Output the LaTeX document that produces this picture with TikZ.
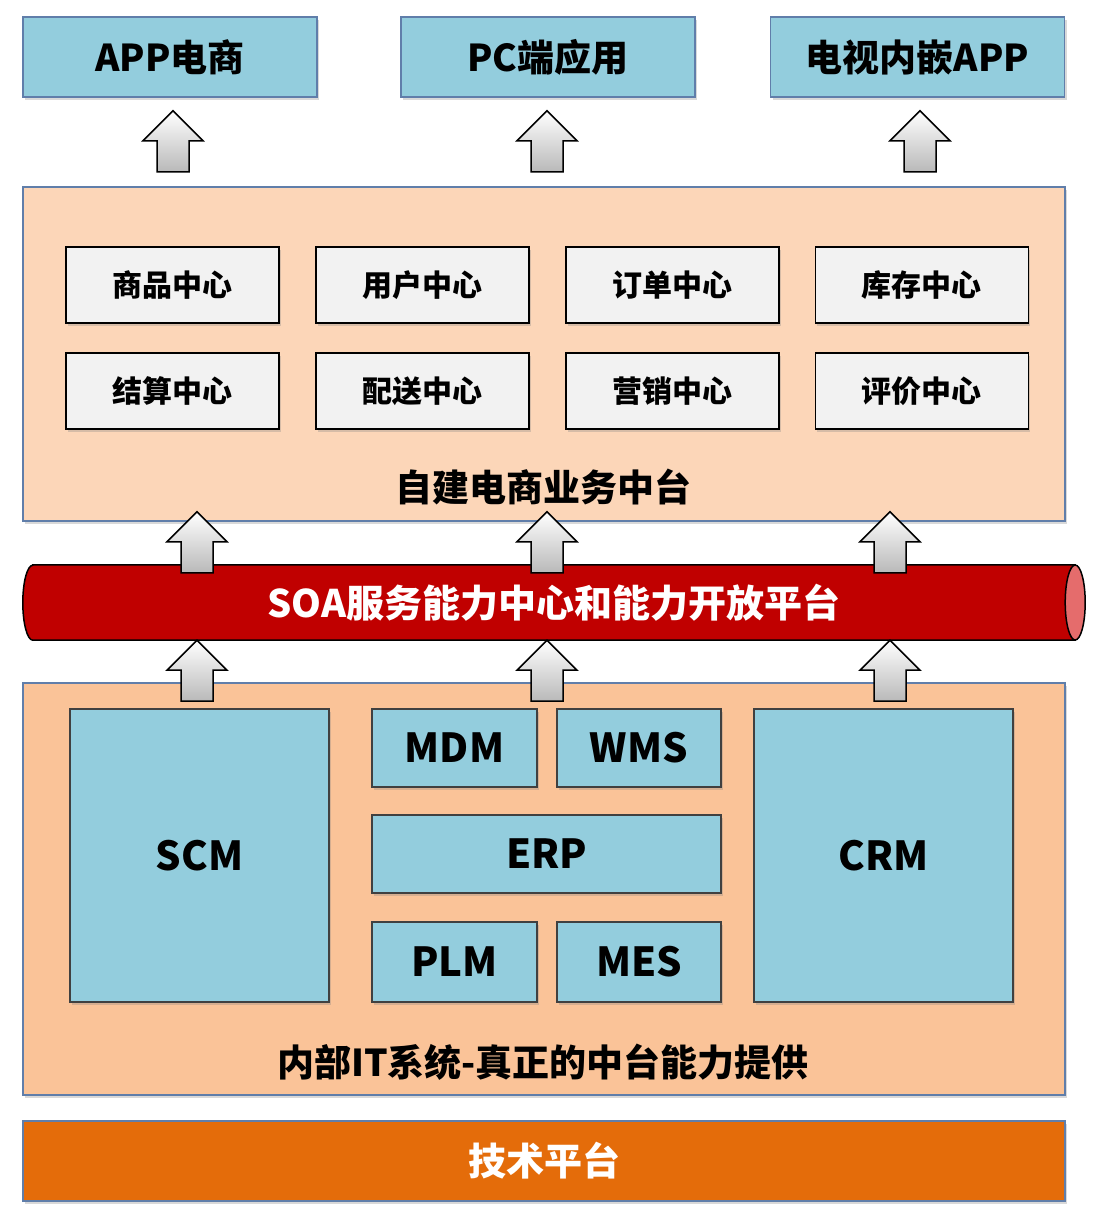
\documentclass[tikz,border=0pt]{standalone}
\usepackage{fontspec}
\setmainfont{Noto Sans CJK SC}
\usetikzlibrary{positioning,calc,shadows,backgrounds}

\definecolor{appblue}{RGB}{147,205,221}
\definecolor{boxline}{RGB}{96,126,170}
\definecolor{hubpeach}{RGB}{252,214,184}
\definecolor{itpeach}{RGB}{250,195,152}
\definecolor{centergray}{RGB}{242,242,242}
\definecolor{soared}{RGB}{192,0,0}
\definecolor{soaend}{RGB}{229,108,108}
\definecolor{techorange}{RGB}{228,108,10}

\begin{document}
\begin{tikzpicture}[x=1pt, y=-1pt,
    shade/.style={drop shadow={opacity=0.3, shadow xshift=2pt, shadow yshift=-3pt}},
    appbox/.style={rectangle, draw=boxline, line width=1.5pt, fill=appblue, minimum width=294pt, minimum height=80pt, font=\fontsize{37}{40}\selectfont\bfseries, shade},
    layer/.style={rectangle, draw=boxline, line width=1.5pt, minimum width=1042pt, shade},
    centerbox/.style={rectangle, draw=black, line width=1.8pt, fill=centergray, minimum width=213pt, minimum height=76pt, font=\fontsize{30}{34}\selectfont\bfseries, shade},
    sysbox/.style={rectangle, draw=black!75, line width=1.5pt, fill=appblue, font=\fontsize{40}{44}\selectfont\bfseries, shade},
    title/.style={font=\fontsize{37}{40}\selectfont\bfseries},
    uparr/.pic={\draw[line width=1.5pt, top color=white, bottom color=gray!55] (0,0) -- (30,30) -- (16,30) -- (16,61) -- (-16,61) -- (-16,30) -- (-30,30) -- cycle;}]

    \useasboundingbox (0,0) rectangle (1100,1224);

    % front ends
    \node [appbox] (app) at (170,57) {APP电商};
    \node [appbox] (pc) at (548,57) {PC端应用};
    \node [appbox] (tv) at (917.5,57) {电视内嵌APP};

    % business hub
    \node [layer, fill=hubpeach, minimum height=334pt] (hub) at (544,354) {};
    \node [title] (hubtitle) at (543,487) {自建电商业务中台};
    \node [centerbox] (goods) at (172.5,285) {商品中心};
    \node [centerbox, right=35pt of goods] (user) {用户中心};
    \node [centerbox, right=35pt of user] (order) {订单中心};
    \node [centerbox, right=35pt of order] (stock) {库存中心};
    \node [centerbox, below=28pt of goods] (settle) {结算中心};
    \node [centerbox, below=28pt of user] (deliver) {配送中心};
    \node [centerbox, below=28pt of order] (market) {营销中心};
    \node [centerbox, below=28pt of stock] (review) {评价中心};

    % SOA bus
    \node [font=\fontsize{38}{42}\selectfont\bfseries, text=white, minimum width=1062pt, minimum height=75pt, inner sep=0pt] (soa) at (554,602.5) {SOA服务能力中心和能力开放平台};
    \begin{scope}[on background layer]
        \draw [line width=1.5pt, fill=soared] ([xshift=10pt]soa.north west) -- ([xshift=-10pt]soa.north east) -- ([xshift=-10pt]soa.south east) -- ([xshift=10pt]soa.south west) arc (90:270:10 and 37.5) -- cycle;
        \draw [line width=1.5pt, fill=soaend] ([xshift=-10pt]soa.east) ellipse [x radius=10, y radius=37.5];
    \end{scope}

    % internal IT
    \node [layer, fill=itpeach, minimum height=412pt] (it) at (544,889) {};
    \node [title] (ittitle) at (543,1062) {内部IT系统-真正的中台能力提供};
    \node [sysbox, minimum width=259pt, minimum height=293pt] (scm) at (199.5,855.5) {SCM};
    \node [sysbox, minimum width=259pt, minimum height=293pt] (crm) at (883.5,855.5) {CRM};
    \node [sysbox, minimum width=165pt, minimum height=78pt] (mdm) at (454.5,748) {MDM};
    \node [sysbox, minimum width=164pt, minimum height=78pt] (wms) at (639,748) {WMS};
    \node [sysbox, minimum width=349pt, minimum height=78pt] (erp) at (546.5,854) {ERP};
    \node [sysbox, minimum width=165pt, minimum height=80pt] (plm) at (454.5,962) {PLM};
    \node [sysbox, minimum width=164pt, minimum height=80pt] (mes) at (639,962) {MES};

    % platform
    \node [layer, fill=techorange, minimum height=80pt, text=white, font=\fontsize{38}{42}\selectfont\bfseries] (tech) at (544,1161) {技术平台};

    % arrows
    \foreach \b/\dx in {app/3,pc/-1,tv/2.5}
        \pic at ($(\b.south)+(\dx,13)$) {uparr};
    \foreach \s/\dx in {scm/-2.5,erp/0.5,crm/6.5} {
        \pic at ($(\s |- hub.south)+(\dx,-10)$) {uparr};
        \pic at ($(\s |- soa.south)+(\dx,0)$) {uparr};
    }
\end{tikzpicture}
\end{document}
